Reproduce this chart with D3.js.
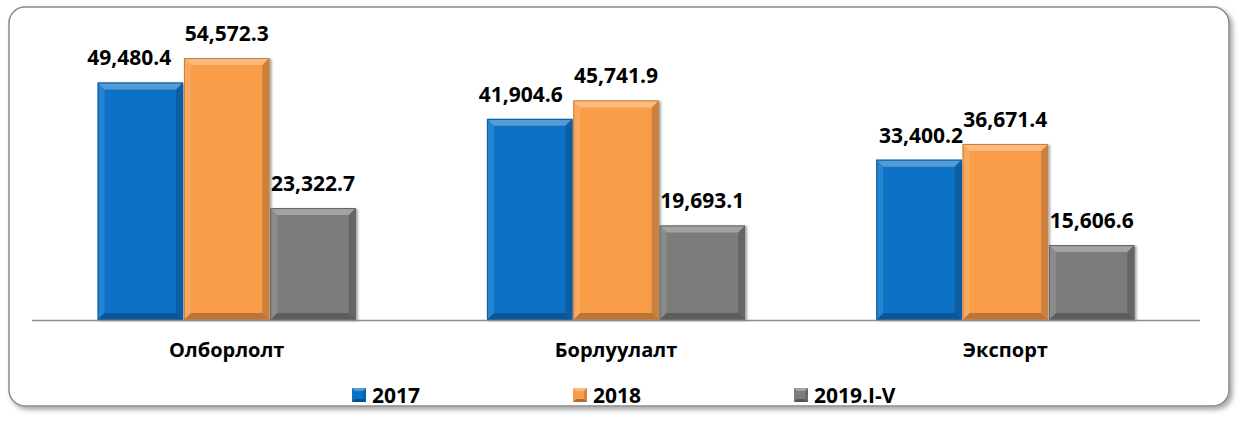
<!DOCTYPE html>
<html lang="mn">
    <head>
        <meta charset="utf-8">
        <title>Olborlolt bar chart</title>
        <script src="https://d3js.org/d3.v7.min.js"></script>
        <style>
            body { margin: 0; background: #fff; }
            text { font-family: "Open Sans", "Liberation Sans", sans-serif; font-weight: bold; }
        </style>
    </head>
    <body>
        <script type="text/javascript">

            // data
            var categories = ["Олборлолт", "Борлуулалт", "Экспорт"];
            var seriesNames = ["2017", "2018", "2019.I-V"];
            var values2017 = [49480.4, 41904.6, 33400.2];
            var values2018 = [54572.3, 45741.9, 36671.4];
            var values2019 = [23322.7, 19693.1, 15606.6];
            var colors = ["#0a72c6", "#f99d4a", "#7c7c7c"];

            var allSeries = [values2017, values2018, values2019];

            var width = 1240, height = 421;
            var plot = {left: 32, right: 1200, top: 32, bottom: 320};

            //small nudges of the 2017 labels so they clear the 2018 ones (per category)
            var blueLabelDx = [-11, -9, 2];

            var svg = d3.select("body")
                .append("svg")
                .attr("width", width)
                .attr("height", height);

            var defs = svg.append("defs");
            var shadow = defs.append("filter")
                .attr("id", "frameShadow")
                .attr("x", "-5%").attr("y", "-5%")
                .attr("width", "110%").attr("height", "115%");
            shadow.append("feDropShadow")
                .attr("dx", 3).attr("dy", 3)
                .attr("stdDeviation", 2.5)
                .attr("flood-color", "#000")
                .attr("flood-opacity", 0.35);

            var barShadow = defs.append("filter")
                .attr("id", "barShadow")
                .attr("x", "-10%").attr("y", "-10%")
                .attr("width", "130%").attr("height", "130%");
            barShadow.append("feDropShadow")
                .attr("dx", 2).attr("dy", 1)
                .attr("stdDeviation", 1.2)
                .attr("flood-color", "#000")
                .attr("flood-opacity", 0.35);

            //frame round the chart
            svg.append("rect")
                .attr("x", 9)
                .attr("y", 7)
                .attr("width", 1220)
                .attr("height", 399)
                .attr("rx", 16)
                .attr("fill", "#fff")
                .attr("stroke", "#8a8a8a")
                .attr("stroke-width", 1.5)
                .attr("filter", "url(#frameShadow)");

            //scales
            var x0 = d3.scaleBand()
                .domain(categories)
                .range([plot.left, plot.right])
                .paddingInner(0.337)
                .paddingOuter(0.1685);

            var x1 = d3.scaleBand()
                .domain(d3.range(seriesNames.length))
                .range([0, x0.bandwidth()])
                .paddingInner(0.01);

            var y = d3.scaleLinear()
                .domain([0, 60000])
                .range([plot.bottom, plot.top]);

            //bars with a bevel
            var bev = 7;
            categories.forEach(function(cat, ci) {
                allSeries.forEach(function(vals, si) {
                    var bx = x0(cat) + x1(si);
                    var bw = x1.bandwidth();
                    var by = y(vals[ci]);
                    var bh = y(0) - by;
                    var g = svg.append("g").attr("filter", "url(#barShadow)");
                    g.append("rect")
                        .attr("x", bx).attr("y", by)
                        .attr("width", bw).attr("height", bh)
                        .attr("fill", colors[si]);
                    var x2 = bx + bw, y2 = by + bh;
                    var faces = [
                        {pts: [[bx, by], [x2, by], [x2 - bev, by + bev], [bx + bev, by + bev]], c: "#fff", o: 0.3},
                        {pts: [[bx, by], [bx + bev, by + bev], [bx + bev, y2 - bev], [bx, y2]], c: "#fff", o: 0.12},
                        {pts: [[x2, by], [x2, y2], [x2 - bev, y2 - bev], [x2 - bev, by + bev]], c: "#000", o: 0.18},
                        {pts: [[bx, y2], [bx + bev, y2 - bev], [x2 - bev, y2 - bev], [x2, y2]], c: "#000", o: 0.25}
                    ];
                    faces.forEach(function(f) {
                        g.append("polygon")
                            .attr("points", f.pts.map(function(p) { return p.join(","); }).join(" "))
                            .attr("fill", f.c)
                            .attr("fill-opacity", f.o);
                    });
                    g.append("rect")
                        .attr("x", bx + 0.5).attr("y", by + 0.5)
                        .attr("width", bw - 1).attr("height", bh - 1)
                        .attr("fill", "none")
                        .attr("stroke", d3.color(colors[si]).darker(0.6))
                        .attr("stroke-width", 1);

                    //value label
                    svg.append("text")
                        .attr("x", bx + bw / 2 + (si === 0 ? blueLabelDx[ci] : 0))
                        .attr("y", by - 17)
                        .attr("text-anchor", "middle")
                        .attr("font-size", "21px")
                        .attr("fill", "#000")
                        .text(d3.format(",.1f")(vals[ci]));
                });
            });

            //x axis line
            svg.append("line")
                .attr("x1", plot.left).attr("x2", plot.right)
                .attr("y1", y(0) + 0.5).attr("y2", y(0) + 0.5)
                .attr("stroke", "#8c8c8c")
                .attr("stroke-width", 1.5);

            //category labels
            svg.selectAll(".cat")
                .data(categories)
                .enter()
                .append("text")
                .attr("class", "cat")
                .attr("x", function(d) { return x0(d) + x0.bandwidth() / 2; })
                .attr("y", 357)
                .attr("text-anchor", "middle")
                .attr("font-size", "20px")
                .attr("fill", "#000")
                .text(function(d) { return d; });

            //legend
            var legendX = [352, 573, 794];
            var legend = svg.selectAll(".leg")
                .data(seriesNames)
                .enter()
                .append("g")
                .attr("class", "leg")
                .attr("transform", function(d, i) { return "translate(" + legendX[i] + ",388)"; });

            legend.each(function(d, i) {
                var g = d3.select(this);
                var s = 14, b = 3;
                g.append("rect")
                    .attr("width", s).attr("height", s)
                    .attr("fill", colors[i]);
                g.append("polygon")
                    .attr("points", "0,0 " + s + ",0 " + (s - b) + "," + b + " " + b + "," + b)
                    .attr("fill", "#fff").attr("fill-opacity", 0.3);
                g.append("polygon")
                    .attr("points", "0," + s + " " + b + "," + (s - b) + " " + (s - b) + "," + (s - b) + " " + s + "," + s)
                    .attr("fill", "#000").attr("fill-opacity", 0.3);
                g.append("polygon")
                    .attr("points", s + ",0 " + s + "," + s + " " + (s - b) + "," + (s - b) + " " + (s - b) + "," + b)
                    .attr("fill", "#000").attr("fill-opacity", 0.15);
                g.append("text")
                    .attr("x", 20)
                    .attr("y", 14.5)
                    .attr("font-size", "21px")
                    .attr("fill", "#000")
                    .text(d);
            });

        </script>
    </body>
</html>
